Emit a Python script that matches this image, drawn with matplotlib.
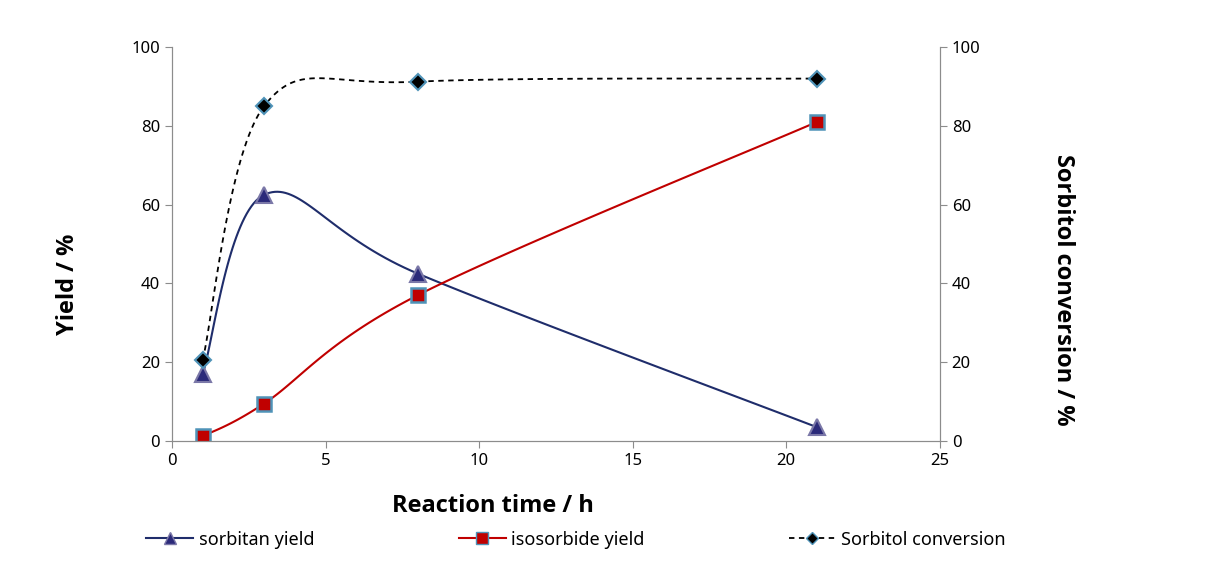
import numpy as np
import matplotlib.pyplot as plt

time_h = [1, 3, 8, 21]
sorbitan_yield = [17.0, 62.5, 42.5, 3.5]
isosorbide_yield = [1.2, 9.5, 37.0, 81.0]
sorbitol_conv = [20.5, 85.0, 91.2, 92.0]


def smooth(x, y, n=40):
    # Excel-like smoothed line: cubic bezier segments, Catmull-Rom control points
    x = np.asarray(x, float)
    y = np.asarray(y, float)
    px = np.concatenate([[x[0]], x, [x[-1]]])
    py = np.concatenate([[y[0]], y, [y[-1]]])
    xs, ys = [], []
    t = np.linspace(0, 1, n)
    for i in range(1, len(px) - 2):
        p0 = np.array([px[i], py[i]])
        p3 = np.array([px[i + 1], py[i + 1]])
        p1 = p0 + (np.array([px[i + 1], py[i + 1]]) - np.array([px[i - 1], py[i - 1]])) / 6
        p2 = p3 - (np.array([px[i + 2], py[i + 2]]) - np.array([px[i], py[i]])) / 6
        b = ((1 - t) ** 3)[:, None] * p0 + (3 * (1 - t) ** 2 * t)[:, None] * p1 \
            + (3 * (1 - t) * t ** 2)[:, None] * p2 + (t ** 3)[:, None] * p3
        xs.extend(b[:, 0])
        ys.extend(b[:, 1])
    return np.array(xs), np.array(ys)


plt.rcParams['font.family'] = ['Noto Sans', 'DejaVu Sans']
bold_font = dict(family=['Open Sans', 'DejaVu Sans'], fontsize=17, fontweight='bold')

fig = plt.figure(figsize=(12.05, 5.79), dpi=100)
ax = fig.add_axes([0.1427, 0.2383, 0.6373, 0.6805])
ax2 = ax.twinx()

navy = '#1F2D6B'
red = '#C00000'
edge_blue = '#4F93B8'

sx, sy = smooth(time_h, sorbitan_yield)
ax.plot(sx, sy, color=navy, lw=1.5)
ax.plot(time_h, sorbitan_yield, ls='none', marker='^', ms=11,
        mfc='#2B2A7A', mec='#7B78A8', mew=1.5)

ix, iy = smooth(time_h, isosorbide_yield)
ax.plot(ix, iy, color=red, lw=1.5)
ax.plot(time_h, isosorbide_yield, ls='none', marker='s', ms=10,
        mfc=red, mec=edge_blue, mew=1.8)

cx, cy = smooth(time_h, sorbitol_conv)
ax2.plot(cx, cy, color='black', lw=1.3, ls=(0, (3, 2.5)))
ax2.plot(time_h, sorbitol_conv, ls='none', marker='D', ms=8,
         mfc='black', mec=edge_blue, mew=1.5)

for a in (ax, ax2):
    a.set_ylim(0, 100)
    a.set_yticks(range(0, 101, 20))
    for s in a.spines.values():
        s.set_color('#8C8C8C')
    a.spines['top'].set_visible(False)
    a.tick_params(colors='#8C8C8C', labelcolor='black', labelsize=12, length=5)
ax.set_xlim(0, 25)
ax.set_xticks(range(0, 26, 5))

ax.set_xlabel('Reaction time / h', **bold_font)
ax.xaxis.set_label_coords(0.418, -0.135)
ax.set_ylabel('Yield / %', **bold_font)
ax.yaxis.set_label_coords(-0.12, 0.398)
ax2.set_ylabel('Sorbitol conversion / %', rotation=270, **bold_font)
ax2.yaxis.set_label_coords(1.176, 0.383)

h1 = plt.Line2D([], [], color=navy, lw=1.5, marker='^', ms=9,
                mfc='#2B2A7A', mec='#7B78A8')
h2 = plt.Line2D([], [], color=red, lw=1.5, marker='s', ms=8,
                mfc=red, mec=edge_blue)
h3 = plt.Line2D([], [], color='black', lw=1.3, ls=(0, (3, 2.5)), marker='D',
                ms=6, mfc='black', mec=edge_blue)
fig.legend([h1, h2, h3], ['sorbitan yield', 'isosorbide yield', 'Sorbitol conversion'],
           loc='center', bbox_to_anchor=(0.478, 0.068), ncol=3, frameon=False,
           fontsize=13, columnspacing=8.0, handlelength=2.6, handletextpad=0.3)

fig.savefig('out.png', dpi=100)
